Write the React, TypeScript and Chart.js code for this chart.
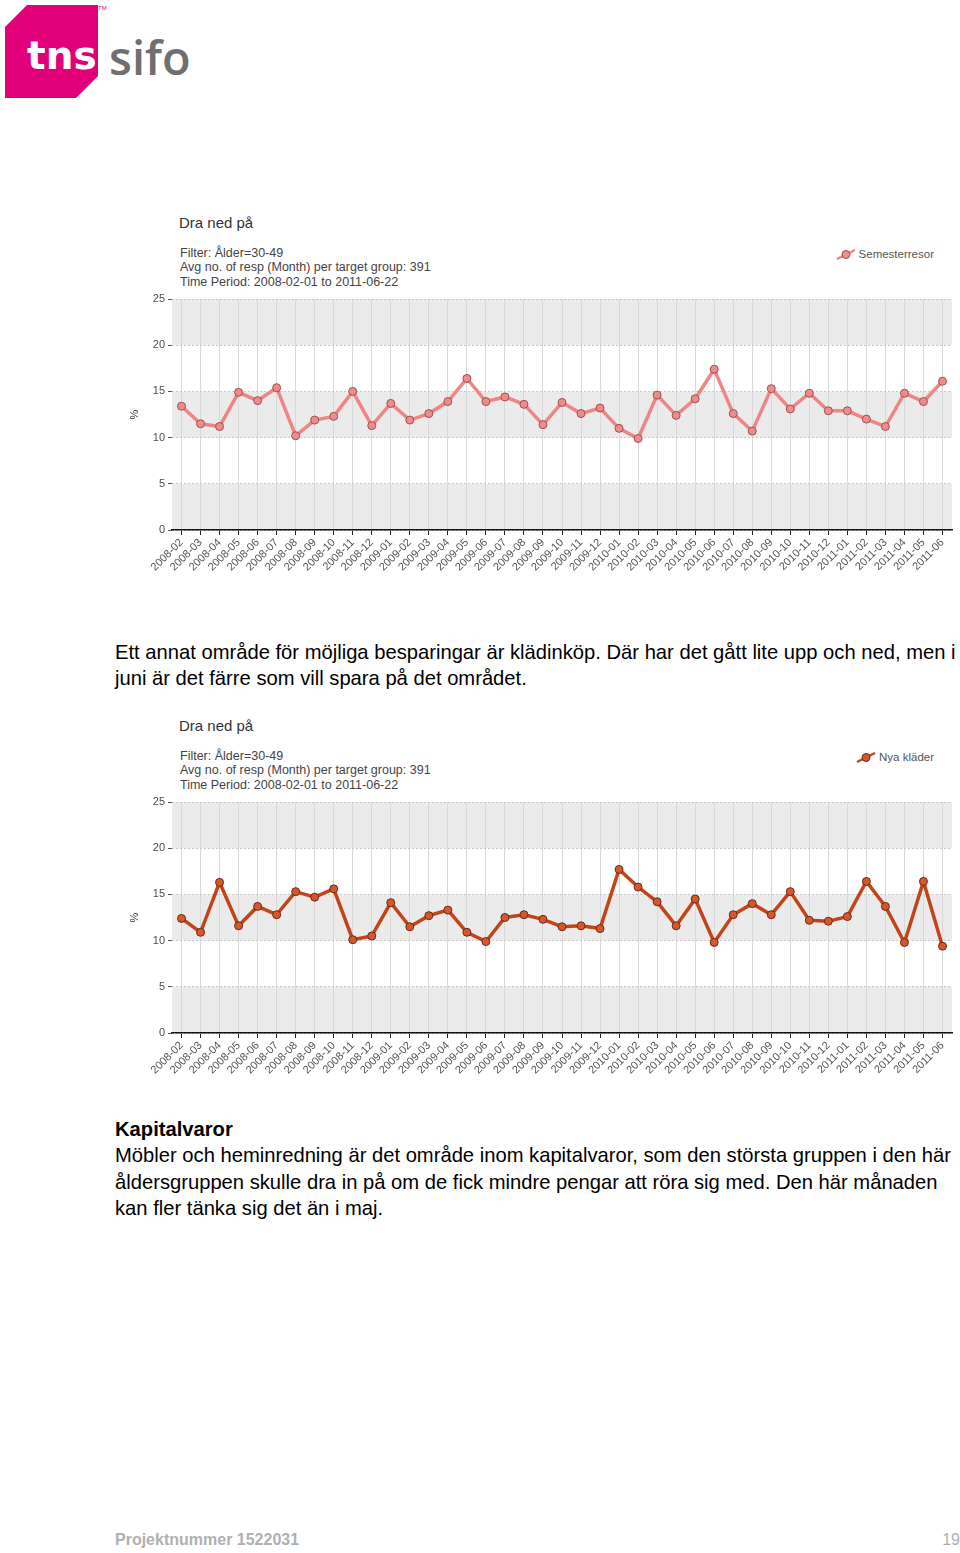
import React, { useEffect, useRef } from "react";
import { Chart, registerables } from "chart.js";

Chart.register(...registerables);

const months = [
  "2008-02", "2008-03", "2008-04", "2008-05", "2008-06", "2008-07", "2008-08", "2008-09", "2008-10", "2008-11", "2008-12",
  "2009-01", "2009-02", "2009-03", "2009-04", "2009-05", "2009-06", "2009-07", "2009-08", "2009-09", "2009-10", "2009-11", "2009-12",
  "2010-01", "2010-02", "2010-03", "2010-04", "2010-05", "2010-06", "2010-07", "2010-08", "2010-09", "2010-10", "2010-11", "2010-12",
  "2011-01", "2011-02", "2011-03", "2011-04", "2011-05", "2011-06",
];

const semesterresor = [
  13.4, 11.5, 11.2, 14.9, 14.0, 15.4, 10.2, 11.9, 12.3, 15.0, 11.3,
  13.7, 11.9, 12.6, 13.9, 16.4, 13.9, 14.4, 13.6, 11.4, 13.8, 12.6, 13.2,
  11.0, 9.9, 14.6, 12.4, 14.2, 17.4, 12.6, 10.7, 15.3, 13.1, 14.8, 12.9,
  12.9, 12.0, 11.2, 14.8, 13.9, 16.1,
];

const nyaKlader = [
  12.4, 10.9, 16.3, 11.6, 13.7, 12.8, 15.3, 14.7, 15.6, 10.1, 10.5,
  14.1, 11.5, 12.7, 13.3, 10.9, 9.9, 12.5, 12.8, 12.3, 11.5, 11.6, 11.3,
  17.7, 15.8, 14.2, 11.6, 14.5, 9.8, 12.8, 14.0, 12.8, 15.3, 12.2, 12.1,
  12.6, 16.4, 13.7, 9.8, 16.4, 9.4,
];

const yTicks = [0, 5, 10, 15, 20, 25];
const greyBands = [
  [0, 5],
  [10, 15],
  [20, 25],
];

const chartTitle = "Dra ned på";
const filterLines = [
  "Filter: Ålder=30-49",
  "Avg no. of resp (Month) per target group: 391",
  "Time Period: 2008-02-01 to 2011-06-22",
];

const FONT = "'Liberation Sans', Arial, Helvetica, sans-serif";

const bandsPlugin = {
  id: "bands",
  beforeDraw(chart: any) {
    const { ctx, chartArea, scales } = chart;
    const y = scales.y;
    ctx.save();
    ctx.fillStyle = "#ffffff";
    ctx.fillRect(chartArea.left, chartArea.top, chartArea.right - chartArea.left, chartArea.bottom - chartArea.top);
    ctx.fillStyle = "#ebebeb";
    for (const [a, b] of greyBands) {
      const y1 = y.getPixelForValue(b);
      const y2 = y.getPixelForValue(a);
      ctx.fillRect(chartArea.left, y1, chartArea.right - chartArea.left, y2 - y1);
    }
    ctx.restore();
  },
};

type LineProps = {
  values: number[];
  label: string;
  lineColor: string;
  pointFill: string;
  pointBorder: string;
  top: number;
};

function LineChart({ values, label, lineColor, pointFill, pointBorder, top }: LineProps) {
  const ref = useRef<HTMLCanvasElement>(null);
  useEffect(() => {
    if (!ref.current) return;
    const chart = new Chart(ref.current, {
      type: "line",
      data: {
        labels: months,
        datasets: [
          {
            label,
            data: values,
            borderColor: lineColor,
            borderWidth: 3.5,
            pointRadius: 4,
            pointBackgroundColor: pointFill,
            pointBorderColor: pointBorder,
            pointBorderWidth: 1,
            tension: 0,
          },
        ],
      },
      options: {
        animation: false,
        responsive: false,
        layout: { padding: { top: 59, right: 8, left: 0, bottom: 0 } },
        plugins: { legend: { display: false }, tooltip: { enabled: false } },
        scales: {
          x: {
            offset: true,
            grid: { offset: false, color: "#d9d9d9", tickColor: "#222", tickLength: 5, lineWidth: 1 },
            border: { color: "#111", width: 1.5 },
            ticks: {
              autoSkip: false,
              maxRotation: 45,
              minRotation: 45,
              color: "#555",
              padding: 1,
              font: { family: FONT, size: 11 },
            },
            afterFit: (s: any) => {
              s.height = 55;
            },
          },
          y: {
            min: yTicks[0],
            max: yTicks[yTicks.length - 1],
            afterBuildTicks: (s: any) => {
              s.ticks = yTicks.map((v) => ({ value: v }));
            },
            ticks: { color: "#4d4d4d", padding: 3, font: { family: FONT, size: 11 } },
            grid: { color: "#c8c8c8", tickColor: "#555", tickLength: 4, lineWidth: 1 },
            border: { display: false, dash: [2, 2] },
            title: { display: true, text: "%", color: "#333", font: { family: FONT, size: 11 }, padding: { top: 2, bottom: 0 } },
            afterFit: (s: any) => {
              s.width = 46;
            },
          },
        },
      },
      plugins: [bandsPlugin],
    });
    return () => chart.destroy();
  }, []);
  return (
    <canvas
      ref={ref}
      width={834}
      height={345}
      style={{ position: "absolute", left: 126, top, width: 834, height: 345 }}
    />
  );
}

function ChartBlock({ top, values, label, lineColor, pointFill, pointBorder }: LineProps) {
  // top = y of the title centre
  return (
    <>
      <div
        style={{
          position: "absolute",
          left: 179,
          top: top - 9,
          font: `15px ${FONT}`,
          lineHeight: "18px",
          color: "#333",
          whiteSpace: "nowrap",
        }}
      >
        {chartTitle}
      </div>
      <div
        style={{
          position: "absolute",
          left: 180,
          top: top + 30 - 7.25,
          font: `12.5px ${FONT}`,
          lineHeight: "14.5px",
          color: "#444",
          whiteSpace: "nowrap",
        }}
      >
        {filterLines.map((l) => (
          <div key={l}>{l}</div>
        ))}
      </div>
      <div
        style={{
          position: "absolute",
          right: 26,
          top: top + 31 - 8,
          height: 16,
          display: "flex",
          alignItems: "center",
          font: `11.5px ${FONT}`,
          color: "#555",
          whiteSpace: "nowrap",
        }}
      >
        <svg width={20} height={14} style={{ marginRight: 3 }}>
          <line x1={1} y1={12} x2={19} y2={3} stroke={lineColor} strokeWidth={2.5} />
          <circle cx={10} cy={7.5} r={4} fill={pointFill} stroke={pointBorder} strokeWidth={1} />
        </svg>
        <span>{label}</span>
      </div>
      <LineChart
        top={top + 17}
        values={values}
        label={label}
        lineColor={lineColor}
        pointFill={pointFill}
        pointBorder={pointBorder}
      />
    </>
  );
}

const textStyle: React.CSSProperties = {
  position: "absolute",
  left: 115,
  font: `20.2px ${FONT}`,
  lineHeight: "26.5px",
  color: "#000",
  whiteSpace: "nowrap",
};

export default function App() {
  return (
    <div style={{ position: "absolute", left: 0, top: 0, width: 960, height: 1553, background: "#fff", overflow: "hidden" }}>
      <svg width={200} height={105} style={{ position: "absolute", left: 0, top: 0 }}>
        <polygon points="5,27 27,5 98,5 98,76 76,98 5,98" fill="#e2007a" />
        <text x={27} y={69} fill="#fff" style={{ font: "bold 39px 'DejaVu Sans', sans-serif" }}>
          tns
        </text>
        <text x={109} y={75} fill="#6f6f6f" style={{ font: "600 47px 'Open Sans', sans-serif" }}>
          sifo
        </text>
        <text x={98} y={10} fill="#e2007a" style={{ font: "6px Arial, sans-serif" }}>
          TM
        </text>
      </svg>

      <ChartBlock
        top={223}
        values={semesterresor}
        label="Semesterresor"
        lineColor="#f08585"
        pointFill="#ee8c8c"
        pointBorder="#a05050"
      />

      <div style={{ ...textStyle, top: 652 - 13.25 }}>
        Ett annat område för möjliga besparingar är klädinköp. Där har det gått lite upp och ned, men i
        <br />
        juni är det färre som vill spara på det området.
      </div>

      <ChartBlock
        top={726}
        values={nyaKlader}
        label="Nya kläder"
        lineColor="#c4441a"
        pointFill="#d4582e"
        pointBorder="#6e2a12"
      />

      <div style={{ ...textStyle, top: 1129 - 13.25 }}>
        <b>Kapitalvaror</b>
        <br />
        Möbler och heminredning är det område inom kapitalvaror, som den största gruppen i den här
        <br />
        åldersgruppen skulle dra in på om de fick mindre pengar att röra sig med. Den här månaden
        <br />
        kan fler tänka sig det än i maj.
      </div>

      <div
        style={{
          position: "absolute",
          left: 115,
          top: 1540 - 10,
          font: `bold 16px ${FONT}`,
          lineHeight: "20px",
          color: "#b0b0b0",
          whiteSpace: "nowrap",
        }}
      >
        Projektnummer 1522031
      </div>
      <div
        style={{
          position: "absolute",
          right: 0,
          top: 1540 - 10,
          font: `16px ${FONT}`,
          lineHeight: "20px",
          color: "#b0b0b0",
        }}
      >
        19
      </div>
    </div>
  );
}
